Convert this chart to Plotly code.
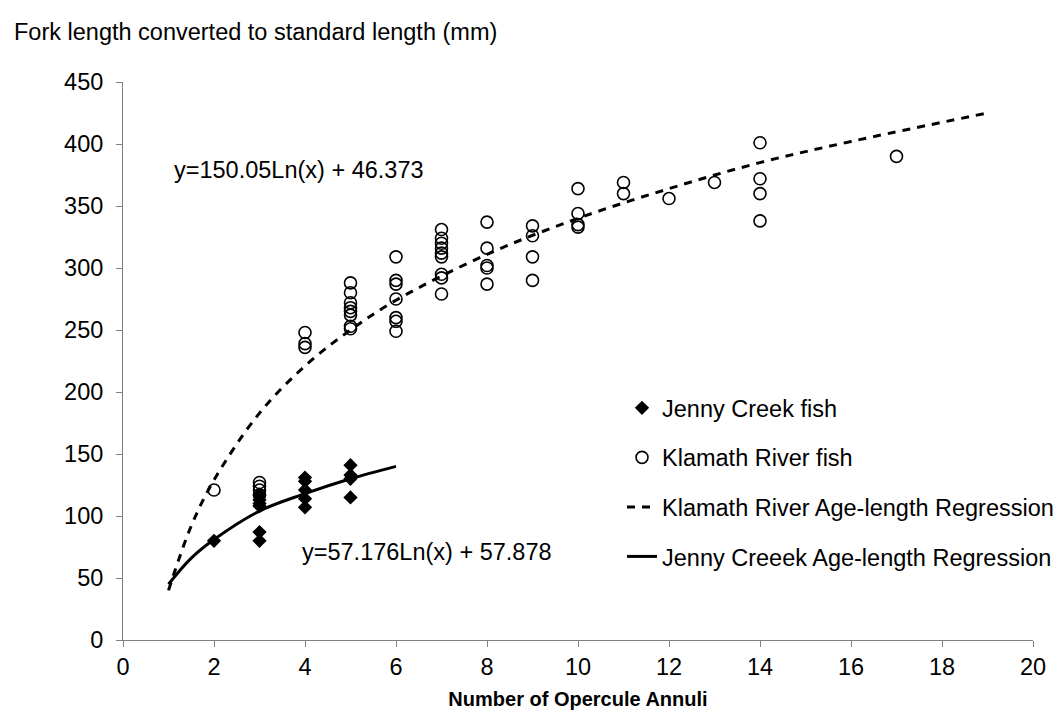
import plotly.graph_objects as go

# Jenny Creek fish (opercule annuli, length mm)
jenny_x = [2, 3, 3, 3, 3, 3, 3, 4, 4, 4, 4, 4, 5, 5, 5, 5]
jenny_y = [80, 117, 113, 110, 108, 87, 80, 131, 128, 121, 114, 107, 141, 133, 130, 115]

# Klamath River fish
klam_x = [2, 3, 3, 3, 3,
          4, 4, 4,
          5, 5, 5, 5, 5, 5, 5, 5,
          6, 6, 6, 6, 6, 6, 6,
          7, 7, 7, 7, 7, 7, 7, 7, 7,
          8, 8, 8, 8, 8,
          9, 9, 9, 9,
          10, 10, 10, 10,
          11, 11, 12, 13,
          14, 14, 14, 14, 17]
klam_y = [121, 127, 124, 121, 117,
          248, 239, 236,
          288, 280, 272, 268, 265, 262, 253, 251,
          309, 290, 287, 275, 260, 257, 249,
          331, 324, 320, 316, 312, 309, 295, 292, 279,
          337, 316, 302, 300, 287,
          334, 326, 309, 290,
          364, 344, 335, 333,
          369, 360, 356, 369,
          401, 372, 360, 338, 390]

# Regression curves
klam_reg_x = [1, 1.5, 2, 3, 4, 5, 6, 8, 10, 12, 14, 16, 19]
klam_reg_y = [40, 92, 129, 183, 221, 250, 274, 311, 340, 364, 385, 402, 425]
jenny_reg_x = [1, 1.5, 2, 3, 4, 5, 6]
jenny_reg_y = [45, 66, 81, 104, 118, 130, 140]

x_ticks = list(range(0, 21, 2))
y_ticks = list(range(0, 451, 50))

FONT = "Liberation Sans, Arial, sans-serif"
FS = 23.5

fig = go.Figure()
fig.add_trace(go.Scatter(
    x=jenny_x, y=jenny_y, mode="markers", name="Jenny Creek fish",
    legendgroup="a",
    marker=dict(symbol="diamond", size=11, color="black", line=dict(width=0))))
fig.add_trace(go.Scatter(
    x=klam_x, y=klam_y, mode="markers", name="Klamath River fish",
    legendgroup="b",
    marker=dict(symbol="circle-open", size=12, color="black", line=dict(width=1.6, color="black"))))
fig.add_trace(go.Scatter(
    x=klam_reg_x, y=klam_reg_y, mode="lines", name="Klamath River Age-length Regression",
    legendgroup="c", line_shape="spline",
    line=dict(color="black", width=3, dash="8px,7px")))
fig.add_trace(go.Scatter(
    x=jenny_reg_x, y=jenny_reg_y, mode="lines", name="Jenny Creeek Age-length Regression",
    legendgroup="d", line_shape="spline",
    line=dict(color="black", width=3)))

fig.add_annotation(x=1.08, y=379, xref="x", yref="y", text="y=150.05Ln(x) + 46.373",
                   showarrow=False, xanchor="left", yanchor="middle",
                   font=dict(family=FONT, size=FS, color="black"))
fig.add_annotation(x=3.89, y=71, xref="x", yref="y", text="y=57.176Ln(x) + 57.878",
                   showarrow=False, xanchor="left", yanchor="middle",
                   font=dict(family=FONT, size=FS, color="black"))
fig.add_annotation(x=(12 - 123) / 910, y=(640 - 32) / 558, xref="paper", yref="paper",
                   text="Fork length converted to standard length (mm)",
                   showarrow=False, xanchor="left", yanchor="middle",
                   font=dict(family=FONT, size=FS, color="black"))

fig.update_layout(
    width=1064, height=721,
    margin=dict(l=123, r=31, t=82, b=81, autoexpand=False),
    paper_bgcolor="white", plot_bgcolor="white",
    font=dict(family=FONT, size=FS, color="black"),
    showlegend=True,
    legend=dict(x=(622 - 123) / 910, y=(640 - 386) / 558, xanchor="left", yanchor="top",
                bgcolor="rgba(0,0,0,0)", font=dict(family=FONT, size=FS, color="black"),
                tracegroupgap=16, itemwidth=30),
    xaxis=dict(range=[0, 20], tickvals=x_ticks, ticks="outside", ticklen=6,
               tickcolor="#808080", showline=True, linecolor="#808080", linewidth=1,
               showgrid=False, zeroline=False,
               title=dict(text="<b>Number of Opercule Annuli</b>", standoff=12,
                          font=dict(family=FONT, size=20, color="black"))),
    yaxis=dict(range=[0, 450], tickvals=y_ticks, ticks="outside", ticklen=6,
               tickcolor="#808080", showline=True, linecolor="#808080", linewidth=1,
               showgrid=False, zeroline=False, ticklabelstandoff=8),
)

fig.write_html("out.html")
